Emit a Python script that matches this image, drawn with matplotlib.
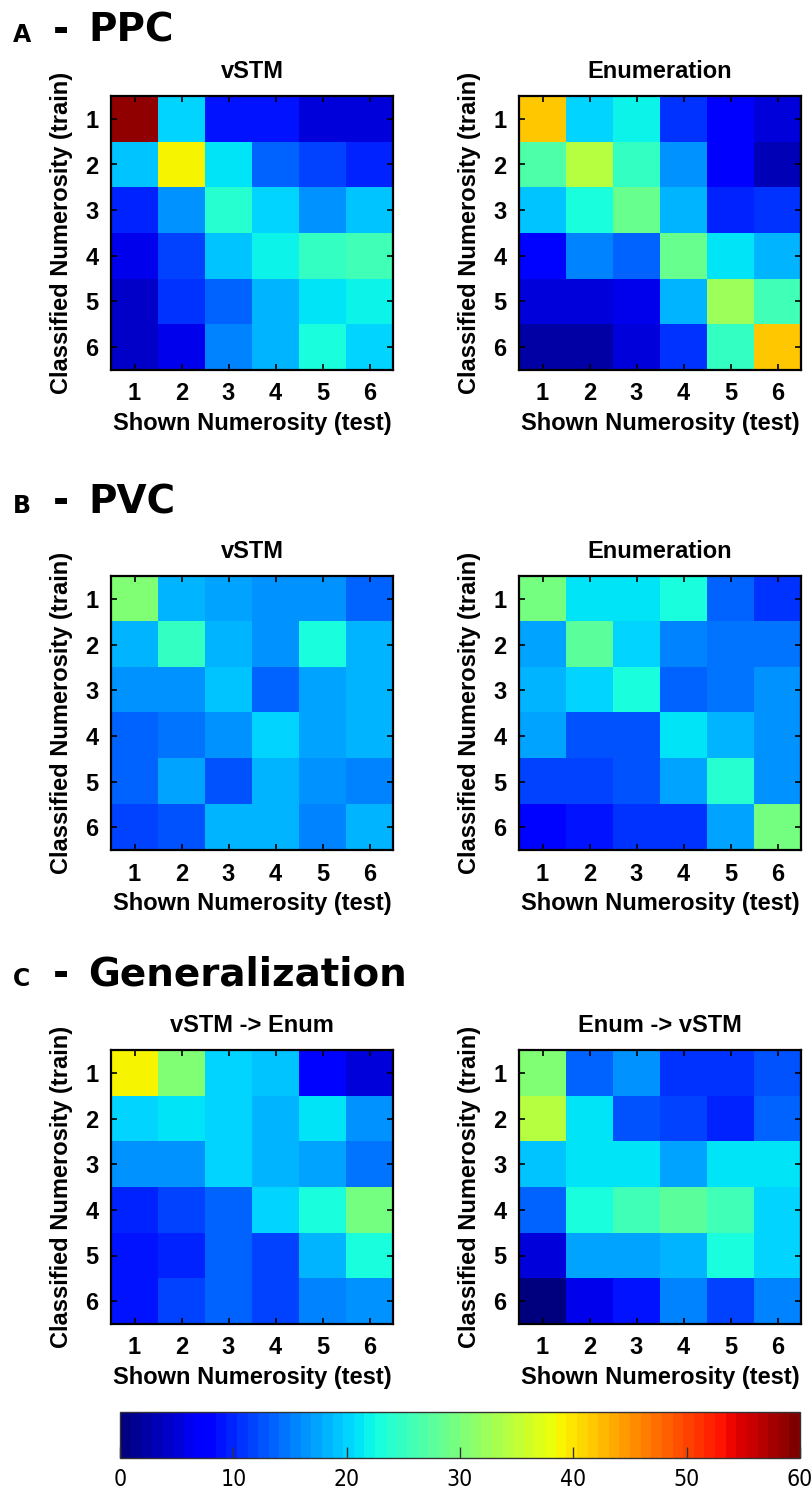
import numpy as np
import matplotlib
matplotlib.use("Agg")
import matplotlib.pyplot as plt

numerosities = ["1", "2", "3", "4", "5", "6"]

# rows = classified numerosity (train), columns = shown numerosity (test)
ppc_vstm = [
    [59.0, 20.3, 8.7, 8.7, 5.0, 5.0],
    [19.5, 38.5, 21.0, 13.5, 11.3, 9.8],
    [9.8, 16.5, 24.0, 20.0, 16.5, 19.5],
    [6.0, 12.0, 19.5, 22.0, 25.0, 26.0],
    [4.5, 10.5, 13.5, 18.5, 21.0, 22.0],
    [3.8, 6.0, 15.0, 18.5, 23.0, 20.5],
]
ppc_enum = [
    [42.0, 20.0, 22.0, 11.0, 7.0, 5.0],
    [26.3, 34.5, 25.0, 16.0, 7.0, 3.0],
    [19.5, 23.0, 29.0, 18.5, 9.5, 10.5],
    [7.5, 15.0, 13.5, 28.5, 21.5, 18.0],
    [5.0, 5.0, 6.0, 18.0, 32.3, 25.5],
    [2.3, 2.5, 5.0, 11.0, 24.5, 42.0],
]
pvc_vstm = [
    [30.0, 18.5, 17.0, 16.0, 16.0, 14.0],
    [18.5, 24.5, 18.5, 16.0, 22.5, 18.5],
    [16.0, 16.0, 19.5, 13.8, 17.0, 18.5],
    [13.2, 14.5, 16.0, 20.5, 17.0, 18.0],
    [13.2, 17.0, 13.0, 18.0, 16.5, 15.0],
    [11.3, 12.3, 18.0, 18.0, 15.0, 18.5],
]
pvc_enum = [
    [29.3, 21.5, 21.5, 23.0, 13.2, 10.5],
    [17.5, 27.8, 20.3, 15.0, 14.7, 14.7],
    [18.5, 20.3, 23.3, 13.2, 14.3, 16.0],
    [17.5, 12.8, 12.8, 21.5, 18.5, 16.0],
    [11.3, 11.3, 12.8, 17.5, 24.3, 16.0],
    [8.3, 9.3, 10.8, 10.5, 17.0, 29.3],
]
gen_vstm_enum = [
    [38.5, 30.8, 20.3, 19.5, 8.2, 4.9],
    [19.8, 21.5, 19.8, 18.5, 20.8, 16.0],
    [16.5, 16.5, 20.5, 18.3, 17.7, 14.3],
    [9.8, 11.3, 13.2, 20.5, 23.2, 29.3],
    [9.0, 9.8, 13.5, 12.0, 18.0, 23.3],
    [9.3, 11.5, 13.5, 11.3, 15.0, 16.3],
]
gen_enum_vstm = [
    [30.0, 13.5, 16.3, 10.5, 10.5, 12.8],
    [33.8, 20.8, 12.8, 12.0, 9.8, 13.5],
    [19.2, 20.8, 20.8, 17.5, 21.5, 21.0],
    [13.5, 23.3, 25.5, 27.8, 25.5, 20.5],
    [5.0, 17.3, 17.3, 18.5, 22.5, 19.8],
    [0.8, 5.7, 9.3, 15.0, 12.0, 15.3],
]

section_letters = ["A", "B", "C"]
section_names = ["PPC", "PVC", "Generalization"]
panel_titles = [["vSTM", "Enumeration"], ["vSTM", "Enumeration"],
                ["vSTM -> Enum", "Enum -> vSTM"]]
panel_data = [[ppc_vstm, ppc_enum], [pvc_vstm, pvc_enum],
              [gen_vstm_enum, gen_enum_vstm]]
cbar_ticks = [0, 10, 20, 30, 40, 50, 60]

W, H = 811, 1492
fig = plt.figure(figsize=(W / 100, H / 100), dpi=100)

cmap = plt.get_cmap("jet", 64)
lab_font = dict(family="Liberation Sans", fontweight="bold", fontsize=17)

col_left = [111, 519]
row_top = [96, 576, 1050]
ax_w, ax_h = 282, 274
header_base = [42, 513, 986]

im = None
for r in range(3):
    # section header
    yb = 1 - header_base[r] / H
    fig.text(13 / W, yb, section_letters[r], family="DejaVu Sans",
             fontweight="bold", fontsize=17, va="baseline")
    fig.text(53 / W, yb, "-", family="DejaVu Sans", fontweight="bold",
             fontsize=28, va="baseline")
    fig.text(88 / W, yb, section_names[r], family="DejaVu Sans",
             fontweight="bold", fontsize=28, va="baseline")
    for c in range(2):
        ax = fig.add_axes([col_left[c] / W, 1 - (row_top[r] + ax_h) / H,
                           ax_w / W, ax_h / H])
        im = ax.imshow(np.array(panel_data[r][c]), cmap=cmap, vmin=0, vmax=60,
                       aspect="auto", interpolation="nearest")
        ax.set_xticks(range(6))
        ax.set_yticks(range(6))
        ax.set_xticklabels(numerosities, **lab_font)
        ax.set_yticklabels(numerosities, **lab_font)
        ax.tick_params(direction="in", length=4, width=1.2, top=True,
                       right=True, pad=9)
        for s in ax.spines.values():
            s.set_linewidth(1.6)
        ax.set_title(panel_titles[r][c], pad=13, **lab_font)
        ax.set_xlabel("Shown Numerosity (test)", **lab_font)
        ax.set_ylabel("Classified Numerosity (train)", **lab_font)
        ax.xaxis.set_label_coords(0.5, -0.155)
        ax.yaxis.set_label_coords(-0.177, 0.5)
        ax.yaxis.label.set_va("center")

# colorbar
cax = fig.add_axes([120 / W, 1 - 1458 / H, 680 / W, 46 / H])
cb = fig.colorbar(im, cax=cax, orientation="horizontal", ticks=cbar_ticks)
cb.outline.set_linewidth(1.0)
cb.outline.set_edgecolor("#333333")
cax.tick_params(direction="in", length=8, width=1, colors="#333333",
                labelcolor="black", labelsize=16.5, pad=7)
for t in cax.get_xticklabels():
    t.set_family("DejaVu Sans")
    t.set_fontstretch("condensed")

fig.savefig("out.png", dpi=100)
